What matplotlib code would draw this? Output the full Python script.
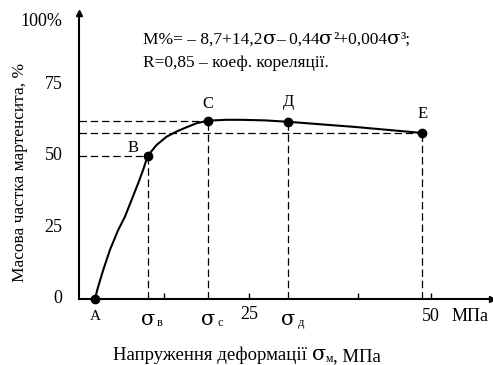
import matplotlib
matplotlib.use("Agg")
import matplotlib.pyplot as plt

plt.rcParams['font.family'] = ['Liberation Serif', 'DejaVu Serif']

# curve (stress in MPa, martensite share in %)
curve_x = [3.85, 4.30, 4.99, 5.91, 7.05, 7.97, 8.89, 9.79, 10.48, 11.1, 12.32, 13.70, 15.07,
           16.44, 17.82, 19.4, 21.9, 23.8, 27.2, 30.4, 39.6, 48.8]
curve_y = [0.0, 4.3, 10.1, 17.1, 24.1, 28.7, 34.6, 40.4, 45.1, 50.0, 53.8, 56.7, 58.5,
           60.0, 61.4, 62.3, 62.6, 62.6, 62.4, 61.9, 60.1, 58.0]

# key points A, B, C, Д, E
pt_names = ['A', 'B', 'C', 'Д', 'E']
pt_x = [3.85, 11.1, 19.4, 30.4, 48.8]
pt_y = [0.0, 50.0, 62.3, 61.9, 58.0]

y_ticks = [0, 25, 50, 75]
y_labels = ['0', '25', '50', '75']
x_ticks = [13.3, 25, 40, 50]

SIG = ['DejaVu Serif']
serif = ['Liberation Serif', 'DejaVu Serif']

fig = plt.figure(figsize=(4.93, 3.65), dpi=100)
ax = fig.add_axes([0.160, 0.181, 0.838, 0.784])
ax.set_xlim(1.65, 58.4)
ax.set_ylim(0, 100)

for s in ['top', 'right']:
    ax.spines[s].set_visible(False)
ax.spines['left'].set_linewidth(1.5)
ax.spines['bottom'].set_linewidth(1.5)
# arrow heads
ax.plot(1, 0, '>', color='black', ms=5, transform=ax.transAxes, clip_on=False)
ax.plot(0, 1, '^', color='black', ms=5, transform=ax.transAxes, clip_on=False)

ax.set_xticks(x_ticks)
ax.set_xticklabels([])
ax.tick_params(axis='x', direction='in', length=4, width=1)
ax.set_yticks([])

for t, l in zip(y_ticks, y_labels):
    ax.text(-0.04, t, l, transform=ax.get_yaxis_transform(), ha='right', va='center', fontsize=13)
ax.text(-0.04, 97, '100%', transform=ax.get_yaxis_transform(), ha='right', va='center', fontsize=13)

# dashed guide lines
dash = dict(color='black', lw=0.9, ls=(0, (6, 3)))
ax.plot([1.65, pt_x[1]], [pt_y[1], pt_y[1]], **dash)
ax.plot([1.65, pt_x[2]], [pt_y[2], pt_y[2]], **dash)
ax.plot([1.65, pt_x[4]], [pt_y[4], pt_y[4]], **dash)
for x, y in zip(pt_x[1:], pt_y[1:]):
    ax.plot([x, x], [0, y], **dash)

ax.plot(curve_x, curve_y, color='black', lw=1.5)
ax.plot(pt_x, pt_y, 'o', color='black', ms=6, clip_on=False, zorder=5)

# point labels
offs = [(0, 0), (-10.5, 6), (0, 12), (0, 14), (0, 14)]
for n, x, y, (dx, dy) in zip(pt_names, pt_x, pt_y, offs):
    if n == 'A':
        continue
    ax.annotate(n, (x, y), xytext=(dx, dy), textcoords='offset points', ha='center', va='center', fontsize=12)


# labels under the x axis
def sigma_label(x, sub):
    ax.annotate('σ', (x, 0), xytext=(0, -15), textcoords='offset points', ha='center', va='center',
                fontsize=15, family=SIG)
    ax.annotate(sub, (x, 0), xytext=(9, -17), textcoords='offset points', ha='center', va='center', fontsize=9)


ax.annotate('A', (pt_x[0], 0), xytext=(0, -13), textcoords='offset points', ha='center', va='center', fontsize=11)
sigma_label(pt_x[1], 'в')
sigma_label(pt_x[2], 'с')
sigma_label(pt_x[3], 'д')
ax.annotate('25', (25, 0), xytext=(0, -11), textcoords='offset points', ha='center', va='center', fontsize=13)
ax.annotate('50', (50, 0), xytext=(0, -13), textcoords='offset points', ha='center', va='center', fontsize=13)
ax.annotate('МПа', (50, 0), xytext=(28, -13), textcoords='offset points', ha='center', va='center', fontsize=13)


# write pieces of text one after another (mixed fonts / sub- and superscripts)
def chain(x, y, pieces):
    prev = None
    for s, size, fam, dy in pieces:
        if prev is None:
            prev = fig.text(x, y, s, fontsize=size, family=fam, va='bottom')
        else:
            prev = ax.annotate(s, xy=(1, 0), xycoords=prev, xytext=(0, dy), textcoords='offset points',
                               fontsize=size, family=fam, va='bottom', ha='left',
                               annotation_clip=False)
    return prev


# equation
chain(143 / 493, 1 - 48 / 365, [
    ('M%= – 8,7+14,2', 12.5, serif, 0),
    ('σ', 14, SIG, 0),
    ('– 0,44', 12.5, serif, 0),
    ('σ', 14, SIG, 0),
    ('²+0,004', 12.5, serif, 0),
    ('σ', 14, SIG, 0),
    ('³;', 12.5, serif, 0),
])
fig.text(143 / 493, 1 - 71 / 365, 'R=0,85 – коеф. кореляції.', fontsize=12.5, va='bottom')

# axis titles
fig.text(20 / 493, 1 - 172 / 365, 'Масова частка мартенсита, %', rotation=90, ha='center', va='center', fontsize=12.5)
chain(113 / 493, 1 - 364 / 365, [
    ('Напруження деформації ', 13.5, serif, 0),
    ('σ', 15, SIG, 0),
    ('м', 8.5, serif, -1),
    (', МПа', 13.5, serif, 0),
])

fig.savefig('out.png', dpi=100)
